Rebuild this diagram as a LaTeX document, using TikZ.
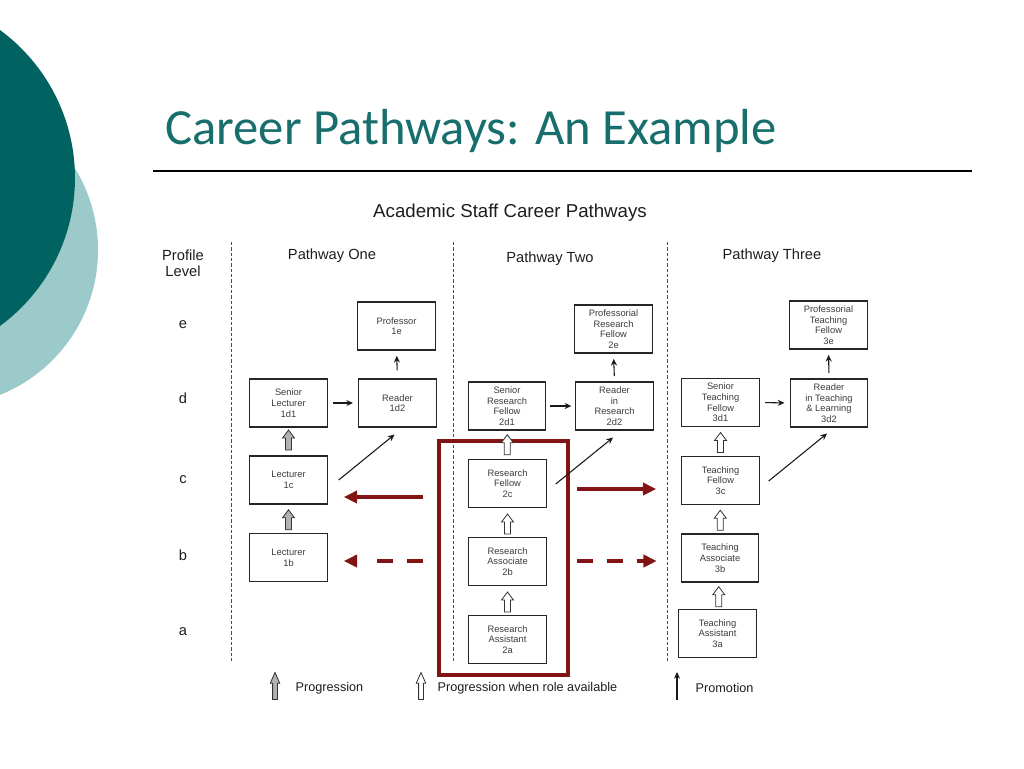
\documentclass[tikz,border=0pt]{standalone}
\usepackage{fontspec}
\setmainfont{Liberation Sans}
\newfontfamily\titlefont{Carlito}
\usetikzlibrary{arrows.meta,calc}
\definecolor{darkteal}{RGB}{0,99,97}
\definecolor{lightteal}{RGB}{156,202,202}
\definecolor{titleteal}{RGB}{23,110,108}
\definecolor{darkred}{RGB}{130,20,20}
\definecolor{boxtext}{RGB}{60,60,60}
\definecolor{maintext}{RGB}{30,30,30}
\tikzset{
  pics/uparrow/.style={code={
    \path[pic actions] (-3,10) -- (-3,-2) -- (-6,-2) -- (0,-10) -- (6,-2) -- (3,-2) -- (3,10) -- cycle;
  }},
  rolebox/.style={draw=black!85, line width=0.8pt, fill=white, minimum width=58pt, minimum height=36pt,
    inner sep=1pt, align=center, font=\fontsize{7}{8}\selectfont, text=boxtext},
  progfill/.style={draw=black!80, fill=gray!60, line width=0.6pt},
  availfill/.style={draw=black!80, fill=white, line width=0.6pt},
  promo/.style={draw=black!90, line width=0.8pt, -{Stealth[length=5pt,width=4.5pt]}},
  redarrow/.style={draw=darkred, line width=3.2pt, -{Triangle[length=10pt,width=9pt]}},
  divider/.style={draw=black!70, line width=0.7pt, dash pattern=on 2.5pt off 1.5pt},
  lvl/.style={font=\fontsize{11}{12}\selectfont, text=maintext},
  head/.style={font=\fontsize{11}{12}\selectfont, text=maintext},
  legtext/.style={font=\fontsize{9.5}{11}\selectfont, text=maintext, anchor=west}
}
\begin{document}
\begin{tikzpicture}[x=0.75pt,y=-0.75pt]
\useasboundingbox (0,0) rectangle (1024,768);
\fill[white] (0,0) rectangle (1024,768);
% decorative circles
\fill[lightteal] (-58,250) circle[radius=117pt];
\fill[darkteal] (-108.5,178) circle[radius=137.6pt];
% title
\node[anchor=base west, inner sep=0pt, font=\titlefont\fontsize{38}{40}\selectfont, text=titleteal] (title) at (165,144) {Career Pathways: An Example};
\draw[black, line width=0.9pt] (153,171) -- (972,171);

% headings
\node[font=\fontsize{14}{16}\selectfont, text=maintext] (maintitle) at (510,213) {Academic Staff Career Pathways};
\node[lvl, align=center] (profile) at (183,263) {Profile\\Level};
\node[head] (p1) at (332,256) {Pathway One};
\node[head] (p2) at (550,259) {Pathway Two};
\node[head] (p3) at (772,256) {Pathway Three};

\node[lvl] (le) at (183,325) {e};
\node[lvl] (ld) at (183,398) {d};
\node[lvl] (lc) at (183,480) {c};
\node[lvl] (lb) at (183,555) {b};
\node[lvl] (la) at (183,632) {a};

% dividers
\draw[divider] (231,242) -- (231,662);
\draw[divider] (453,242) -- (453,662);
\draw[divider] (667,242) -- (667,662);

% red frame
\draw[darkred, line width=2.3pt] (439,441) rectangle (568,675);

% pathway one
\node[rolebox] (1e) at (396.5,326) {Professor\\1e};
\node[rolebox] (1d1) at (288.5,403) {Senior\\Lecturer\\1d1};
\node[rolebox] (1d2) at (397.5,403) {Reader\\1d2};
\node[rolebox] (1c) at (288.5,480) {Lecturer\\1c};
\node[rolebox] (1b) at (288.5,557.5) {Lecturer\\1b};

% pathway two
\node[rolebox] (2e) at (613.5,329) {Professorial\\Research\\Fellow\\2e};
\node[rolebox] (2d1) at (507,406) {Senior\\Research\\Fellow\\2d1};
\node[rolebox] (2d2) at (614.5,406) {Reader\\in\\Research\\2d2};
\node[rolebox] (2c) at (507.5,483.5) {Research\\Fellow\\2c};
\node[rolebox] (2b) at (507.5,561.5) {Research\\Associate\\2b};
\node[rolebox] (2a) at (507.5,639.5) {Research\\Assistant\\2a};

% pathway three
\node[rolebox] (3e) at (828.5,325) {Professorial\\Teaching\\Fellow\\3e};
\node[rolebox] (3d1) at (720.5,402.5) {Senior\\Teaching\\Fellow\\3d1};
\node[rolebox] (3d2) at (829,403) {Reader\\in Teaching\\\& Learning\\3d2};
\node[rolebox] (3c) at (720.5,480.5) {Teaching\\Fellow\\3c};
\node[rolebox] (3b) at (720,558) {Teaching\\Associate\\3b};
\node[rolebox] (3a) at (717.5,633.5) {Teaching\\Assistant\\3a};

% horizontal promotions
\draw[promo, shorten <=4pt, shorten >=4pt] (1d1.east) -- (1d2.west);
\draw[promo, shorten <=3pt, shorten >=3pt] (2d1.east) -- (2d2.west);
\draw[promo, shorten <=4pt, shorten >=4pt] (3d1.east) -- (3d2.west);
% vertical promotions
\draw[promo, shorten <=6pt, shorten >=4pt] (1d2.north) -- (1e.south);
\draw[promo, shorten <=4pt, shorten >=4pt] (2d2.north) -- (2e.south);
\draw[promo, shorten <=4pt, shorten >=4pt] (3d2.north) -- (3e.south);
% diagonal promotions
\draw[promo] ($(1c.east)+(11,0)$) -- ($(1d2.south)+(-3,7)$);
\draw[promo] ($(2c.east)+(9,0.5)$) -- ($(2d2.south)+(-1.5,7)$);
\draw[promo] ($(3c.east)+(9,0.5)$) -- ($(3d2.south)+(-2,6)$);

% progression (grey)
\pic[progfill] at ($(1c.north)!0.5!(1d1.south)+(0,-1.5)$) {uparrow};
\pic[progfill] at ($(1b.north)!0.5!(1c.south)+(0,1)$) {uparrow};
% progression when role available (white)
\pic[availfill] at ($(2c.north)!0.5!(2d1.south)+(0,0)$) {uparrow};
\pic[availfill] at ($(2b.north)!0.5!(2c.south)+(0,1.5)$) {uparrow};
\pic[availfill] at ($(2a.north)!0.5!(2b.south)+(0,1.5)$) {uparrow};
\pic[availfill] at ($(3c.north)!0.5!(3d1.south)+(0,1)$) {uparrow};
\pic[availfill] at ($(3b.north)!0.5!(3c.south)+(0,1)$) {uparrow};
\pic[availfill] at ($(3a.north)!0.5!(3b.south)+(0,1)$) {uparrow};

% red transfer arrows
\draw[redarrow] ($(2c.west)+(-45,13.5)$) -- ($(1c.east)+(16,17)$);
\draw[redarrow, dash pattern=on 12pt off 10.5pt on 12pt off 20pt] ($(2b.west)+(-45,-0.5)$) -- ($(1b.east)+(16,3.5)$);
\draw[redarrow] ($(2c.east)+(30,5.5)$) -- ($(3c.west)+(-25,8.5)$);
\draw[redarrow, dash pattern=on 12pt off 10.5pt] ($(2b.east)+(30,-0.5)$) -- ($(3b.west)+(-24,3)$);

% legend
\pic[progfill, xscale=0.8, yscale=1.35] at (275,686) {uparrow};
\node[legtext] (lg1) at (291,688) {Progression};
\pic[availfill, xscale=0.8, yscale=1.35] at (421,686) {uparrow};
\node[legtext] (lg2) at (433,688) {Progression when role available};
\coordinate (pl0) at (677,700);
\coordinate (pl1) at (677,672);
\draw[promo] (pl0) -- (pl1);
\node[legtext] (lg3) at (691,688) {Promotion};
\end{tikzpicture}
\end{document}
